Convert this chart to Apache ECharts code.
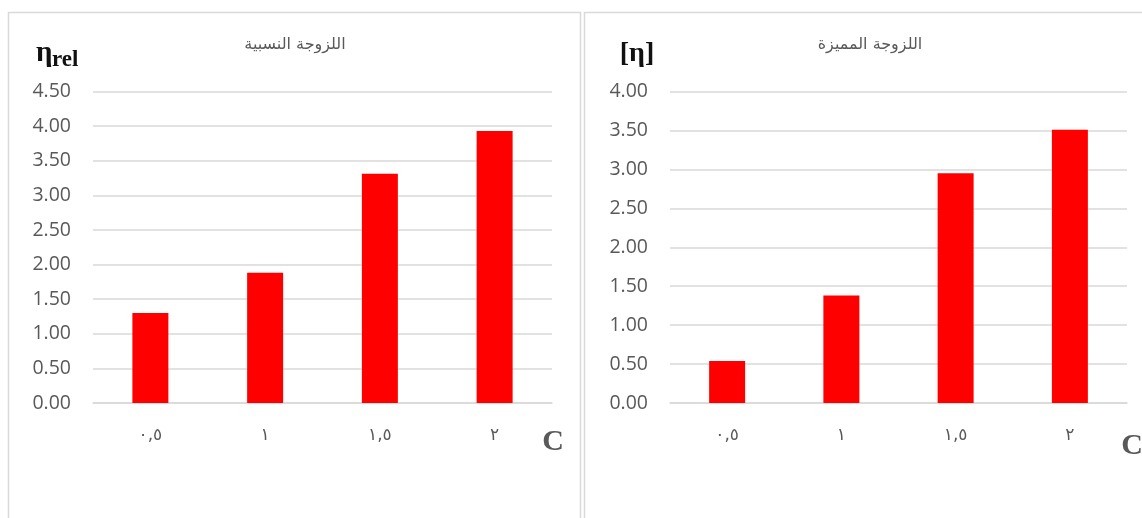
<!DOCTYPE html>
<html><head><meta charset="utf-8">
<script src="https://cdn.jsdelivr.net/npm/echarts@6/dist/echarts.min.js"></script>
<style>html,body{margin:0;padding:0;background:#fff}#c{width:1142px;height:518px}</style>
</head><body><div id="c"></div>
<script>
// ---- data ----
const categories = ['٠,٥', '١', '١,٥', '٢'];
const relativeViscosity = [1.30, 1.88, 3.31, 3.93];
const intrinsicViscosity = [0.54, 1.38, 2.95, 3.51];
const leftTicks = [0, 0.5, 1, 1.5, 2, 2.5, 3, 3.5, 4, 4.5];
const rightTicks = [0, 0.5, 1, 1.5, 2, 2.5, 3, 3.5, 4];
const leftTitle = 'اللزوجة النسبية';
const rightTitle = 'اللزوجة المميزة';

const grey = '#595959';
const gridLine = '#d9d9d9';
const numFont = '"Open Sans", "Liberation Sans", sans-serif';
const serif = '"Liberation Serif", "DejaVu Serif", serif';

function yAxis(idx, ticks) {
  return {
    type: 'value', gridIndex: idx,
    min: ticks[0], max: ticks[ticks.length - 1], interval: ticks[1] - ticks[0],
    axisLine: { show: false }, axisTick: { show: false },
    splitLine: { lineStyle: { color: gridLine, width: 1.5 } },
    axisLabel: { color: grey, fontSize: 19.5, fontFamily: numFont, margin: 22,
      formatter: v => v.toFixed(2) }
  };
}
function xAxis(idx) {
  return {
    type: 'category', gridIndex: idx, data: categories,
    axisLine: { lineStyle: { color: gridLine, width: 1.5 } },
    axisTick: { show: false },
    axisLabel: { color: grey, fontSize: 17, fontFamily: '"DejaVu Sans", sans-serif', margin: 24 }
  };
}

const chart = echarts.init(document.getElementById('c'));
chart.setOption({
  animation: false,
  backgroundColor: '#fff',
  grid: [
    { left: 93, right: 590, top: 91.5, bottom: 115 },
    { left: 670, right: 15, top: 91.5, bottom: 115 }
  ],
  xAxis: [xAxis(0), xAxis(1)],
  yAxis: [yAxis(0, leftTicks), yAxis(1, rightTicks)],
  series: [
    { type: 'bar', xAxisIndex: 0, yAxisIndex: 0, data: relativeViscosity,
      barWidth: 36, itemStyle: { color: '#ff0000' } },
    { type: 'bar', xAxisIndex: 1, yAxisIndex: 1, data: intrinsicViscosity,
      barWidth: 36, itemStyle: { color: '#ff0000' } }
  ],
  graphic: [
    { type: 'rect', shape: { x: 8.5, y: 12.5, width: 572, height: 530 },
      style: { fill: 'none', stroke: gridLine, lineWidth: 1.5 }, z: -1 },
    { type: 'rect', shape: { x: 584.5, y: 12.5, width: 620, height: 530 },
      style: { fill: 'none', stroke: gridLine, lineWidth: 1.5 }, z: -1 },
    { type: 'text', x: 295, y: 45,
      style: { text: leftTitle, fill: grey, font: '16px "DejaVu Sans", sans-serif',
        textAlign: 'center', textVerticalAlign: 'middle' } },
    { type: 'text', x: 870, y: 45,
      style: { text: rightTitle, fill: grey, font: '16px "DejaVu Sans", sans-serif',
        textAlign: 'center', textVerticalAlign: 'middle' } },
    // y-axis names
    { type: 'text', x: 36, y: 54,
      style: { text: 'η', fill: '#111', font: 'bold 29px ' + serif,
        textAlign: 'left', textVerticalAlign: 'middle' } },
    { type: 'text', x: 52, y: 60,
      style: { text: 'rel', fill: '#111', font: 'bold 23px ' + serif,
        textAlign: 'left', textVerticalAlign: 'middle' } },
    { type: 'text', x: 637, y: 54,
      style: { text: '[η]', fill: '#111', font: 'bold 28px ' + serif,
        textAlign: 'center', textVerticalAlign: 'middle' } },
    // x-axis names
    { type: 'text', x: 553, y: 442,
      style: { text: 'C', fill: grey, font: 'bold 30px ' + serif,
        textAlign: 'center', textVerticalAlign: 'middle' } },
    { type: 'text', x: 1132, y: 446,
      style: { text: 'C', fill: grey, font: 'bold 30px ' + serif,
        textAlign: 'center', textVerticalAlign: 'middle' } }
  ]
});
</script>
</body></html>
